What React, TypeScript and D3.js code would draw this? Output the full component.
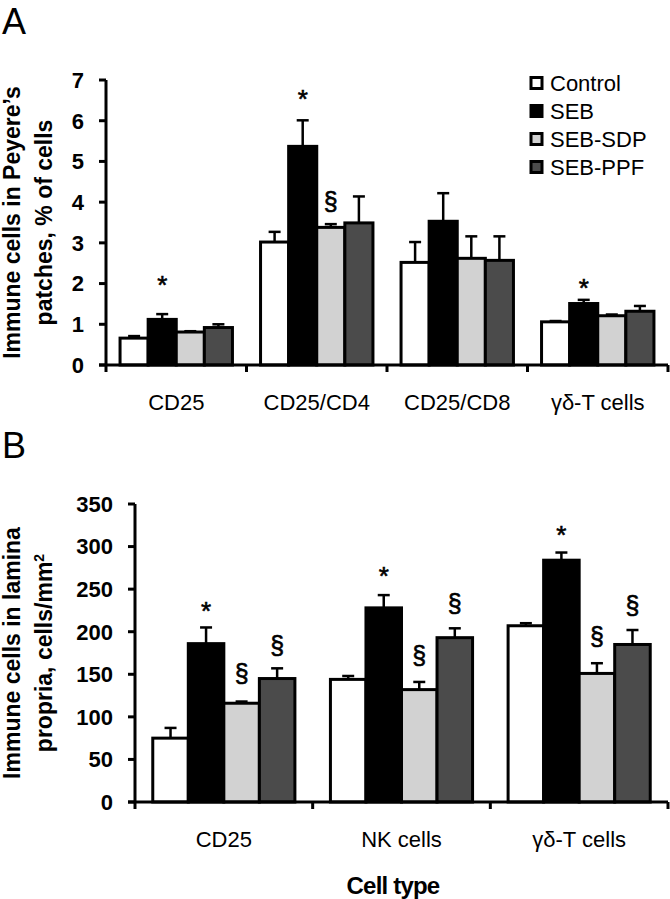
import React from "react";
import * as d3 from "d3";

// ---------- Data ----------
const seriesNames = ["Control", "SEB", "SEB-SDP", "SEB-PPF"];
const seriesColors = ["#ffffff", "#000000", "#d2d2d2", "#4b4b4b"];

// Panel A: Peyer's patches, % of cells
const catsA = ["CD25", "CD25/CD4", "CD25/CD8", "γδ-T cells"];
const controlA = [0.66, 3.02, 2.52, 1.06];
const controlA_se = [0.05, 0.25, 0.5, 0.02];
const sebA = [1.12, 5.37, 3.53, 1.51];
const sebA_se = [0.13, 0.64, 0.69, 0.09];
const sdpA = [0.81, 3.38, 2.62, 1.21];
const sdpA_se = [0.02, 0.08, 0.54, 0.03];
const ppfA = [0.92, 3.49, 2.57, 1.32];
const ppfA_se = [0.08, 0.65, 0.59, 0.13];
const ticksA = [0, 1, 2, 3, 4, 5, 6, 7];
// significance marks: [category index, series index, symbol, level]
const marksA: [number, number, string, number][] = [
  [0, 1, "*", 2.11],
  [1, 1, "*", 6.68],
  [1, 2, "§", 3.98],
  [3, 1, "*", 2.05],
];

// Panel B: lamina propria, cells/mm2
const catsB = ["CD25", "NK cells", "γδ-T cells"];
const controlB = [75, 144, 207];
const controlB_se = [12, 4, 3];
const sebB = [186, 228, 284];
const sebB_se = [19, 15, 9];
const sdpB = [116, 132, 151];
const sdpB_se = [2, 9, 12];
const ppfB = [145, 193, 185];
const ppfB_se = [12, 11, 17];
const ticksB = [0, 50, 100, 150, 200, 250, 300, 350];
const marksB: [number, number, string, number][] = [
  [0, 1, "*", 232],
  [0, 2, "§", 149],
  [0, 3, "§", 182],
  [1, 1, "*", 273],
  [1, 2, "§", 170],
  [1, 3, "§", 231],
  [2, 1, "*", 321],
  [2, 2, "§", 192],
  [2, 3, "§", 229],
];

const FONT = "'Liberation Sans', Arial, Helvetica, sans-serif";

type PanelProps = {
  cats: string[];
  values: number[][];
  errors: number[][];
  ticks: number[];
  marks: [number, number, string, number][];
  x0: number;
  x1: number;
  yTop: number;
  yBottom: number;
  catLabelY: number;
  titleLines: React.ReactNode[];
};

function Panel(p: PanelProps) {
  const yMax = p.ticks[p.ticks.length - 1];
  const y = d3.scaleLinear().domain([0, yMax]).range([p.yBottom, p.yTop]);
  const xb = d3.scaleBand<string>().domain(p.cats).range([p.x0, p.x1]).padding(0);
  const bw = xb.bandwidth();
  const xs = d3
    .scaleBand<string>()
    .domain(seriesNames)
    .range([bw * 0.1, bw * 0.9])
    .padding(0);
  const sw = xs.bandwidth();
  const tickLen = 7;
  const boundaries = p.cats.map((c) => xb(c) as number).concat([p.x1]);
  const midY = (p.yTop + p.yBottom) / 2;

  return (
    <g>
      {/* bars */}
      {p.cats.map((c, ci) =>
        seriesNames.map((s, si) => {
          const v = p.values[si][ci];
          const e = p.errors[si][ci];
          const bx = (xb(c) as number) + (xs(s) as number);
          const cx = bx + sw / 2;
          return (
            <g key={c + s}>
              <line
                x1={cx}
                x2={cx}
                y1={y(v)}
                y2={y(v + e)}
                stroke="#000"
                strokeWidth={2.5}
              />
              <line
                x1={cx - 6}
                x2={cx + 6}
                y1={y(v + e)}
                y2={y(v + e)}
                stroke="#000"
                strokeWidth={2.5}
              />
              <rect
                x={bx}
                y={y(v)}
                width={sw}
                height={y(0) - y(v)}
                fill={seriesColors[si]}
                stroke="#000"
                strokeWidth={3}
              />
            </g>
          );
        })
      )}
      {/* marks */}
      {p.marks.map(([ci, si, sym, lvl], i) => {
        const cx = (xb(p.cats[ci]) as number) + (xs(seriesNames[si]) as number) + sw / 2;
        const fs = sym === "*" ? 26 : 25;
        const off = sym === "*" ? 0.58 * fs : 0.27 * fs;
        return (
          <text
            key={"m" + i}
            x={cx}
            y={y(lvl) + off}
            textAnchor="middle"
            fontSize={fs}
            fontFamily={FONT}
            stroke="#000"
            strokeWidth={0.6}
          >
            {sym}
          </text>
        );
      })}
      {/* y axis */}
      <line x1={p.x0} x2={p.x0} y1={p.yTop} y2={p.yBottom} stroke="#000" strokeWidth={3} />
      {p.ticks.map((t) => (
        <g key={"t" + t}>
          <line
            x1={p.x0 - tickLen}
            x2={p.x0}
            y1={y(t)}
            y2={y(t)}
            stroke="#000"
            strokeWidth={3}
          />
          <text
            x={p.x0 - 22}
            y={y(t)}
            dy="0.36em"
            textAnchor="end"
            fontSize={22}
            fontWeight="bold"
            fontFamily={FONT}
          >
            {t}
          </text>
        </g>
      ))}
      {/* x axis */}
      <line
        x1={p.x0 - tickLen}
        x2={p.x1}
        y1={p.yBottom}
        y2={p.yBottom}
        stroke="#000"
        strokeWidth={3}
      />
      {boundaries.map((bx, i) => (
        <line
          key={"xb" + i}
          x1={bx}
          x2={bx}
          y1={p.yBottom}
          y2={p.yBottom + tickLen}
          stroke="#000"
          strokeWidth={3}
        />
      ))}
      {p.cats.map((c) => (
        <text
          key={"cl" + c}
          x={(xb(c) as number) + bw / 2}
          y={p.catLabelY}
          textAnchor="middle"
          fontSize={22}
          fontFamily={FONT}
        >
          {c}
        </text>
      ))}
      {/* y title */}
      {p.titleLines.map((ln, i) => (
        <text
          key={"yt" + i}
          transform={`translate(${20 + i * 32},${midY}) rotate(-90)`}
          textAnchor="middle"
          fontSize={23}
          fontWeight="bold"
          fontFamily={FONT}
        >
          {ln}
        </text>
      ))}
    </g>
  );
}

export default function App() {
  const legendY = [83, 111, 139, 167];
  return (
    <div style={{ position: "absolute", left: 0, top: 0 }}>
      <svg width={670} height={899} style={{ display: "block", background: "#fff" }}>
        <rect width={670} height={899} fill="#fff" />
        <text x={2} y={34} fontSize={36} fontFamily={FONT}>
          A
        </text>
        <text x={2} y={458} fontSize={36} fontFamily={FONT}>
          B
        </text>
        <Panel
          cats={catsA}
          values={[controlA, sebA, sdpA, ppfA]}
          errors={[controlA_se, sebA_se, sdpA_se, ppfA_se]}
          ticks={ticksA}
          marks={marksA}
          x0={106}
          x1={668}
          yTop={80}
          yBottom={365}
          catLabelY={410}
          titleLines={["Immune cells in Peyere’s", "patches, % of cells"]}
        />
        <Panel
          cats={catsB}
          values={[controlB, sebB, sdpB, ppfB]}
          errors={[controlB_se, sebB_se, sdpB_se, ppfB_se]}
          ticks={ticksB}
          marks={marksB}
          x0={135}
          x1={668}
          yTop={504}
          yBottom={802}
          catLabelY={847}
          titleLines={[
            "Immune cells in lamina",
            <>
              propria, cells/mm
              <tspan baselineShift="super" fontSize={14}>
                2
              </tspan>
            </>,
          ]}
        />
        {/* legend */}
        {seriesNames.map((s, i) => (
          <g key={"lg" + s}>
            <rect
              x={531}
              y={legendY[i] - 5.5}
              width={11}
              height={11}
              fill={seriesColors[i]}
              stroke="#000"
              strokeWidth={3}
            />
            <text x={550} y={legendY[i] + 8} fontSize={22} fontFamily={FONT}>
              {s}
            </text>
          </g>
        ))}
        <text
          x={393}
          y={894}
          textAnchor="middle"
          fontSize={24}
          fontWeight="bold"
          fontFamily={FONT}
          letterSpacing={-0.8}
        >
          Cell type
        </text>
      </svg>
    </div>
  );
}
